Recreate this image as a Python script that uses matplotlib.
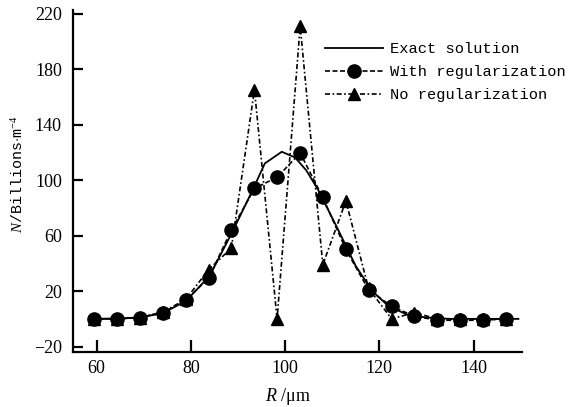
import matplotlib
matplotlib.use("Agg")
import matplotlib.pyplot as plt

plt.rcParams['mathtext.fontset'] = 'custom'
plt.rcParams['mathtext.it'] = 'Liberation Serif:italic'
plt.rcParams['mathtext.rm'] = 'Liberation Serif'

# Exact solution curve
r_exact = [58.5, 64, 69, 74, 79, 84, 89, 93, 95.7, 99.3, 102.1, 104.5, 107, 111, 115, 118.5, 122, 126, 130, 135, 140, 149.5]
n_exact = [0, 0.3, 1, 4, 13, 31, 64, 92, 112, 120.4, 116.3, 107, 93, 66, 38, 20, 9, 3, 1, 0, 0, 0]

# Sample radii
r_pts = [59.5, 64.4, 69.2, 74.1, 78.9, 83.8, 88.6, 93.5, 98.3, 103.2, 108.0, 112.9, 117.7, 122.6, 127.4, 132.3, 137.1, 142.0, 146.8]
# With regularization
n_reg = [0, 0, 1, 4.5, 13.3, 29.5, 64, 94, 102, 119.5, 87.5, 50, 21, 9, 2, -1, -1, -1, 0]
# No regularization
n_noreg = [0, 0, 1, 5, 14, 35.5, 51, 165, 0, 211, 39, 85, 22, 0, 4.5, 0, 0, 0, 0]

xticks = [60, 80, 100, 120, 140]
yticks = [-20, 20, 60, 100, 140, 180, 220]

fig = plt.figure(figsize=(5.72, 4.07), dpi=100)
ax = fig.add_axes([0.1276, 0.136, 0.7845, 0.839])

ax.plot(r_exact, n_exact, '-', color='black', lw=1.3, label='Exact solution', zorder=3)
ax.plot(r_pts, n_reg, '--', color='black', lw=1.2, marker='o', ms=9.5,
        label='With regularization', zorder=4, dashes=(3, 1.5))
ax.plot(r_pts, n_noreg, '-.', color='black', lw=1.2, marker='^', ms=9,
        label='No regularization', zorder=2, dashes=(3, 1.5, 1, 1.5))

ax.set_xlim(55, 150.2)
ax.set_ylim(-23.6, 222.4)
ax.set_xticks(xticks)
ax.set_yticks(yticks)
ax.set_yticklabels(['\u221220' if v < 0 else str(v) for v in yticks])

for s in ['top', 'right']:
    ax.spines[s].set_visible(False)
for s in ['left', 'bottom']:
    ax.spines[s].set_linewidth(1.6)

ax.tick_params(axis='both', direction='in', width=1.6, labelsize=13,
               labelfontfamily='Liberation Serif', color='black')
ax.tick_params(axis='x', length=8.5, pad=6)
ax.tick_params(axis='y', length=7, pad=8)

ax.set_xlabel('$R$ /\u03bcm', fontsize=13, family='Liberation Serif')
ax.xaxis.set_label_coords(0.48, -0.102)
ax.set_ylabel(r'$N$/Billions$\cdot$m$^{-4}$', fontsize=10.8,
              family='Liberation Mono')
ax.yaxis.set_label_coords(-0.104, 0.52)

leg = fig.legend(loc='upper left', bbox_to_anchor=(0.568, 0.897), frameon=False,
                 prop={'family': 'Liberation Mono', 'size': 11.1},
                 handlelength=3.75, handletextpad=0.5, borderpad=0,
                 borderaxespad=0, labelspacing=0.6)

fig.savefig('out.png', dpi=100)
